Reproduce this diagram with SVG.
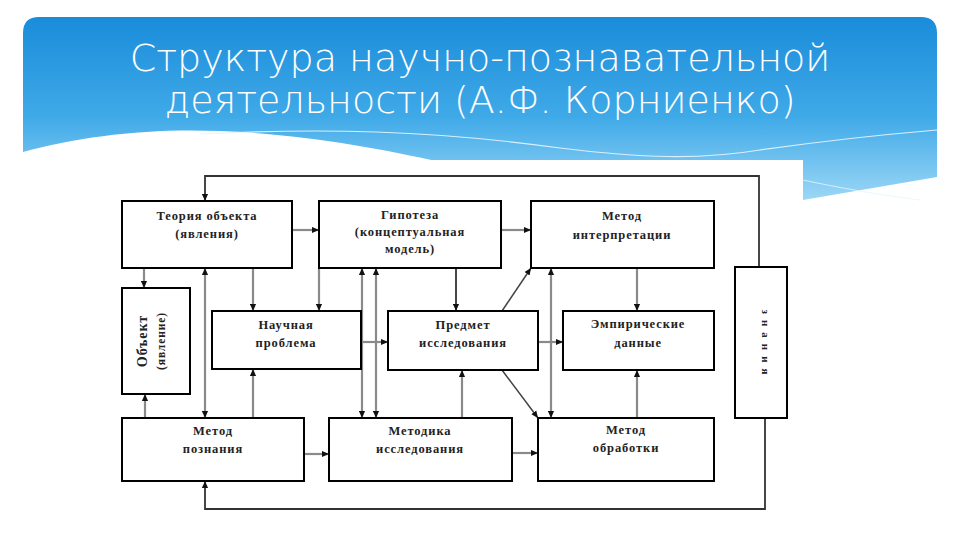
<svg xmlns="http://www.w3.org/2000/svg" width="960" height="540" viewBox="0 0 960 540">
<defs>
<linearGradient id="bg" x1="0" y1="0" x2="0" y2="1">
<stop offset="0" stop-color="#1a8cda"/>
<stop offset="0.55" stop-color="#40aae8"/>
<stop offset="1" stop-color="#9cd7f6"/>
</linearGradient>
<marker id="ah" viewBox="0 0 8 8" refX="8" refY="4" markerWidth="7" markerHeight="7" markerUnits="userSpaceOnUse" orient="auto-start-reverse">
<path d="M0,0.5 L8,4 L0,7.5 z" fill="#111"/>
</marker>
<style>
.box{fill:#fff;stroke:#000;stroke-width:2}
.lbl{font-family:"Liberation Serif","Times New Roman",serif;font-weight:bold;font-size:12.5px;letter-spacing:0.9px;fill:#222;text-anchor:middle}
.title{font-family:"DejaVu Sans","Liberation Sans",sans-serif;font-weight:200;font-size:38px;fill:#fff;text-anchor:middle}
.c{fill:none;stroke:#8a8a8a;stroke-width:2.2}
.k{fill:none;stroke:#333;stroke-width:1.8}
.d{fill:none;stroke:#444;stroke-width:1.5}
</style>
</defs>
<rect width="960" height="540" fill="#fff"/>
<path d="M23,152 C80,136 150,128 220,131 C300,134 380,148 440,162 L803,200 L937,177 V33 Q937,17 921,17 H39 Q23,17 23,33 Z" fill="url(#bg)"/>
<path d="M200,134 C320,128 430,130 560,148 C640,158 700,160 760,150 C830,140 890,134 937,130" fill="none" stroke="#e6f5fd" stroke-width="1.2" opacity="0.9"/>
<path d="M803,180 C840,188 880,195 920,200" fill="none" stroke="#e6f5fd" stroke-width="1" opacity="0.8"/>
<rect x="108" y="160" width="695" height="362" fill="#fff"/>
<text class="title" x="480" y="71">Структура научно-познавательной</text>
<text class="title" x="480" y="113">деятельности (А.Ф. Корниенко)</text>

<g id="connectors">
<path class="k" d="M759,267 V176 H205 V201" marker-end="url(#ah)"/>
<path class="k" d="M765,418 V509 H205 V481" marker-end="url(#ah)"/>
<path class="c" d="M292,230 H319" marker-end="url(#ah)"/>
<path class="c" d="M501,230 H531" marker-end="url(#ah)"/>
<path class="c" d="M144,268 V288" marker-end="url(#ah)"/>
<path class="c" d="M145,418 V394" marker-end="url(#ah)"/>
<path class="c" d="M205,268 V418" marker-start="url(#ah)" marker-end="url(#ah)"/>
<path class="c" d="M253,268 V311" marker-end="url(#ah)"/>
<path class="c" d="M253,418 V369" marker-end="url(#ah)"/>
<path class="c" d="M319,268 V311" marker-end="url(#ah)"/>
<path class="c" d="M362,268 V418" marker-start="url(#ah)" marker-end="url(#ah)"/>
<path class="c" d="M376,268 V418" marker-start="url(#ah)" marker-end="url(#ah)"/>
<path class="c" d="M361,342 H388" marker-end="url(#ah)"/>
<path class="k" d="M456,268 V311" marker-end="url(#ah)"/>
<path class="d" d="M502,311 L531,268" marker-end="url(#ah)"/>
<path class="d" d="M502,370 L538,418" marker-end="url(#ah)"/>
<path class="c" d="M538,342 H563" marker-end="url(#ah)"/>
<path class="c" d="M551,268 V418" marker-start="url(#ah)" marker-end="url(#ah)"/>
<path class="c" d="M637,268 V311" marker-end="url(#ah)"/>
<path class="c" d="M637,418 V370" marker-end="url(#ah)"/>
<path class="c" d="M462,418 V370" marker-end="url(#ah)"/>
<path class="c" d="M304,454 H329" marker-end="url(#ah)"/>
<path class="c" d="M512,453 H538" marker-end="url(#ah)"/>
</g>

<g id="teoriya">
<rect class="box" x="122" y="201" width="170" height="67"/>
<text class="lbl" x="207" y="220">Теория объекта</text>
<text class="lbl" x="207" y="238">(явления)</text>
</g>
<g id="gipoteza">
<rect class="box" x="319" y="201" width="182" height="67"/>
<text class="lbl" x="410" y="219">Гипотеза</text>
<text class="lbl" x="410" y="236">(концептуальная</text>
<text class="lbl" x="410" y="253">модель)</text>
</g>
<g id="metod-interpretacii">
<rect class="box" x="531" y="201" width="183" height="67"/>
<text class="lbl" x="622" y="220">Метод</text>
<text class="lbl" x="622" y="239">интерпретации</text>
</g>
<g id="obekt">
<rect class="box" x="122" y="288" width="68" height="106"/>
<text class="lbl" style="font-size:14px" transform="translate(147,341) rotate(-90)">Объект</text>
<text class="lbl" style="font-size:11.5px" transform="translate(165,341) rotate(-90)">(явление)</text>
</g>
<g id="nauchnaya-problema">
<rect class="box" x="212" y="311" width="149" height="58"/>
<text class="lbl" x="286" y="329">Научная</text>
<text class="lbl" x="286" y="347">проблема</text>
</g>
<g id="predmet">
<rect class="box" x="388" y="311" width="150" height="59"/>
<text class="lbl" x="463" y="329">Предмет</text>
<text class="lbl" x="463" y="347">исследования</text>
</g>
<g id="empiricheskie">
<rect class="box" x="563" y="311" width="151" height="59"/>
<text class="lbl" x="638" y="328">Эмпирические</text>
<text class="lbl" x="638" y="347">данные</text>
</g>
<g id="znaniya">
<rect class="box" x="735" y="267" width="52" height="151"/>
<text class="lbl" style="font-size:11px;letter-spacing:6px" transform="translate(762,345) rotate(90)">знания</text>
</g>
<g id="metod-poznaniya">
<rect class="box" x="122" y="418" width="182" height="63"/>
<text class="lbl" x="213" y="435">Метод</text>
<text class="lbl" x="213" y="453">познания</text>
</g>
<g id="metodika">
<rect class="box" x="329" y="418" width="183" height="63"/>
<text class="lbl" x="420" y="435">Методика</text>
<text class="lbl" x="420" y="453">исследования</text>
</g>
<g id="metod-obrabotki">
<rect class="box" x="538" y="418" width="176" height="63"/>
<text class="lbl" x="626" y="434">Метод</text>
<text class="lbl" x="626" y="452">обработки</text>
</g>
</svg>
